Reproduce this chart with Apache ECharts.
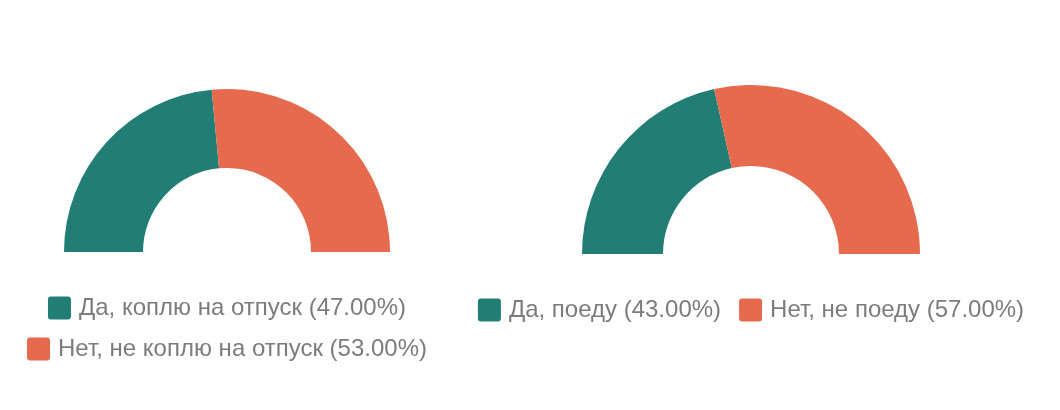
<!DOCTYPE html>
<html>
<head>
<meta charset="utf-8">
<script src="https://cdn.jsdelivr.net/npm/echarts@6/dist/echarts.min.js"></script>
<style>
html,body{margin:0;padding:0;background:#fff;}
#c1{position:absolute;left:0;top:0;width:454px;height:410px;}
#c2{position:absolute;left:454px;top:0;width:594px;height:410px;}
</style>
</head>
<body>
<div id="c1"></div>
<div id="c2"></div>
<script>
const leftCategories = ['Да, коплю на отпуск', 'Нет, не коплю на отпуск'];
const leftValues = [47, 53];
const rightCategories = ['Да, поеду', 'Нет, не поеду'];
const rightValues = [43, 57];
const colors = ['#227e74', '#e66b4e'];

function pctFormatter(cats, vals) {
  const total = vals.reduce((a, b) => a + b, 0);
  return function (name) {
    const i = cats.indexOf(name);
    return name + ' (' + (vals[i] / total * 100).toFixed(2) + '%)';
  };
}

const legendBase = {
  orient: 'horizontal',
  left: 'center',
  itemWidth: 23,
  itemHeight: 23,
  itemGap: 18,
  icon: 'path://M3,0H20A3,3,0,0,1,23,3V20A3,3,0,0,1,20,23H3A3,3,0,0,1,0,20V3A3,3,0,0,1,3,0Z',
  padding: 0,
  textStyle: { color: '#7c7c7c', fontSize: 24, fontFamily: 'Liberation Sans, Arial, sans-serif', padding: [0, 0, 0, 3] }
};

function pieSeries(cats, vals, center, radius) {
  return {
    type: 'pie',
    center: center,
    radius: radius,
    startAngle: 180,
    endAngle: 360,
    clockwise: true,
    label: { show: false },
    labelLine: { show: false },
    silent: true,
    animation: false,
    itemStyle: { borderWidth: 0 },
    data: cats.map((c, i) => ({ name: c, value: vals[i] }))
  };
}

const c1 = echarts.init(document.getElementById('c1'));
const f1 = pctFormatter(leftCategories, leftValues);
c1.setOption({
  color: colors,
  animation: false,
  legend: [
    Object.assign({}, legendBase, { top: 296, data: [leftCategories[0]], formatter: f1 }),
    Object.assign({}, legendBase, { top: 337, data: [leftCategories[1]], formatter: f1 })
  ],
  series: [pieSeries(leftCategories, leftValues, [227, 252], [84, 163])]
});

const c2 = echarts.init(document.getElementById('c2'));
const f2 = pctFormatter(rightCategories, rightValues);
c2.setOption({
  color: colors,
  animation: false,
  legend: [
    Object.assign({}, legendBase, { top: 298, data: rightCategories, formatter: f2 })
  ],
  series: [pieSeries(rightCategories, rightValues, [297, 254], [88, 169])]
});
</script>
</body>
</html>
